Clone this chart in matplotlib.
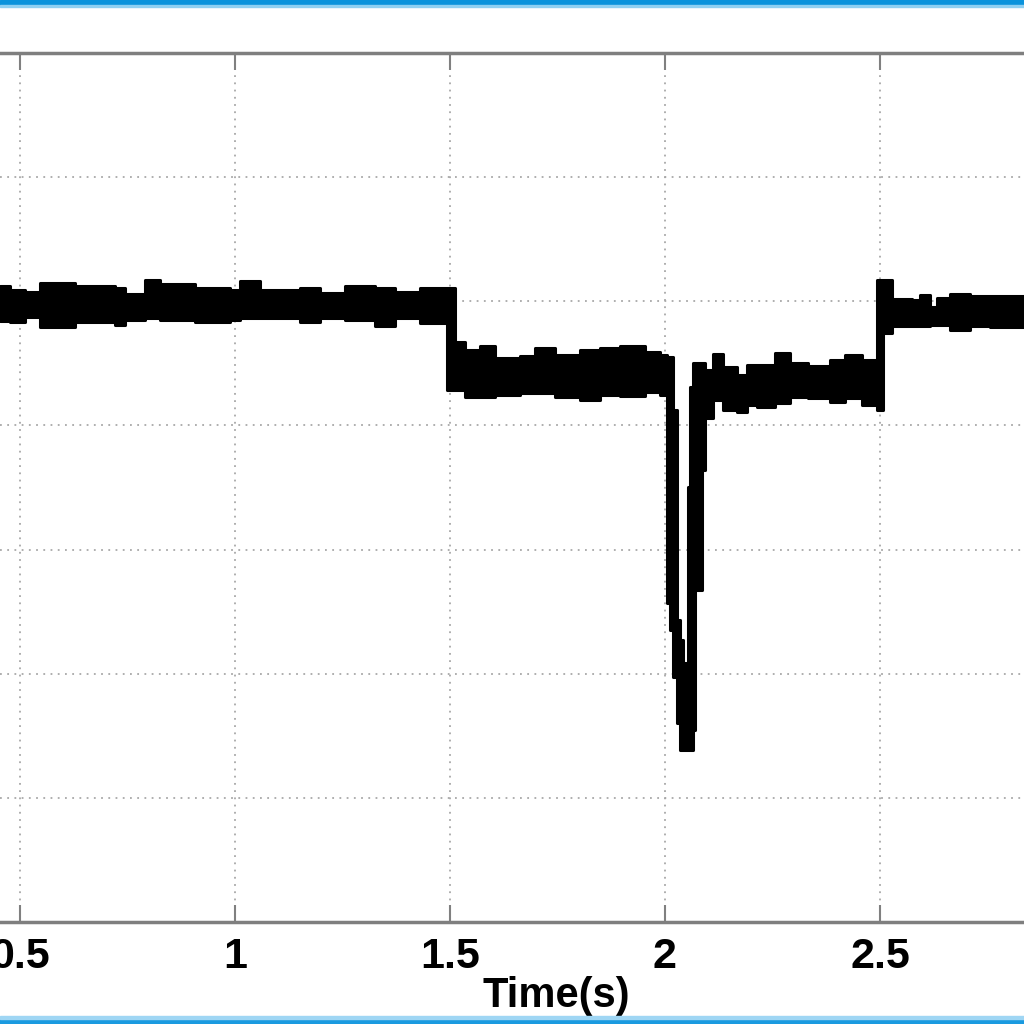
import numpy as np
import matplotlib
matplotlib.use("Agg")
from matplotlib import pyplot as plt
from matplotlib.patches import Rectangle

plt.rcParams.update({"font.family": ["Liberation Sans", "DejaVu Sans"],
                     "font.weight": "bold"})

# envelope of the noisy trace (step-wise, held until next time)
t = [0.4535, 0.4767, 0.5116, 0.5465, 0.6279, 0.7209, 0.7442, 0.7907, 0.8256,
     0.9070, 0.9884, 1.0116, 1.0581, 1.1512, 1.1977, 1.2558, 1.3256, 1.3721,
     1.4302, 1.4930, 1.5116, 1.5349, 1.5698, 1.6047, 1.6628, 1.6977, 1.7442,
     1.8023, 1.8488, 1.8953, 1.9535, 1.9884, 2.0047, 2.0116, 2.0186, 2.0279,
     2.0349, 2.0419, 2.0535, 2.0581, 2.0651, 2.0698, 2.0860, 2.0930, 2.1116,
     2.1349, 2.1674, 2.1907, 2.2140, 2.2558, 2.2907, 2.3326, 2.3837, 2.4186,
     2.4581, 2.4930, 2.5070, 2.5279, 2.5744, 2.5930, 2.6163, 2.6326, 2.6628,
     2.7093, 2.7558, 2.8349]
upper = [5.123, 5.091, 5.075, 5.147, 5.123, 5.107, 5.059, 5.172, 5.139,
         5.107, 5.091, 5.164, 5.091, 5.107, 5.067, 5.123, 5.107, 5.075,
         5.107, 5.107, 4.672, 4.608, 4.640, 4.543, 4.559, 4.624, 4.567,
         4.608, 4.624, 4.640, 4.592, 4.567, 4.551, 4.551, 4.124, 2.433,
         2.272, 2.086, 3.504, 4.310, 4.503, 4.503, 4.503, 4.447, 4.576,
         4.471, 4.406, 4.487, 4.487, 4.584, 4.503, 4.479, 4.527, 4.567,
         4.527, 5.172, 5.172, 5.019, 5.010, 5.051, 4.954, 5.027, 5.059,
         5.043, 5.043, 5.043]
lower = [4.841, 4.833, 4.874, 4.793, 4.833, 4.809, 4.849, 4.866, 4.849,
         4.833, 4.849, 4.866, 4.866, 4.833, 4.866, 4.849, 4.801, 4.866,
         4.825, 4.285, 4.285, 4.229, 4.229, 4.245, 4.261, 4.261, 4.229,
         4.205, 4.245, 4.237, 4.269, 4.245, 2.570, 2.352, 1.974, 1.603,
         1.386, 1.386, 1.386, 1.386, 1.547, 2.674, 3.641, 4.060, 4.205,
         4.124, 4.108, 4.165, 4.149, 4.181, 4.229, 4.221, 4.189, 4.221,
         4.165, 4.124, 4.745, 4.801, 4.801, 4.801, 4.809, 4.809, 4.769,
         4.801, 4.793, 4.793]

xticks = [0.5, 1, 1.5, 2, 2.5]
xticklabels = ['0.5', '1', '1.5', '2', '2.5']

fig = plt.figure(figsize=(10.24, 10.24), dpi=100)
ax = fig.add_axes([0.0, 0.0996, 1.0, 0.8486])

ax.fill_between(t, lower, upper, step='post', color='black',
                edgecolor='black', linewidth=2.2, zorder=3)

ax.set_xlim(0.4535, 2.8349)
ax.set_ylim(0, 7)
ax.set_xticks(xticks)
ax.set_xticklabels(xticklabels)
ax.set_yticks(np.arange(0, 8, 1))
ax.set_yticklabels([])
ax.grid(True, color='#a8a8a8', linestyle=(0, (1, 3)), linewidth=1.3)
ax.tick_params(axis='x', direction='in', length=12, width=1.5, color='#808080',
               top=True, labelsize=31, pad=11)
ax.tick_params(axis='y', left=False, right=False)
for s in ['left', 'right']:
    ax.spines[s].set_visible(False)
for s in ['top', 'bottom']:
    ax.spines[s].set_color('#7f7f7f')
    ax.spines[s].set_linewidth(2.5)

ax.set_xlabel('Time(s)', fontsize=30, fontweight='bold')
ax.xaxis.set_label_coords(0.543, -0.062)

# blue frame lines at top and bottom edges
fig.add_artist(Rectangle((0, 1 - 5 / 1024), 1, 5 / 1024, transform=fig.transFigure,
                         color='#0a93dc', zorder=10))
fig.add_artist(Rectangle((0, 1 - 7 / 1024), 1, 2 / 1024, transform=fig.transFigure,
                         color='#8fd0f2', zorder=10))
fig.add_artist(Rectangle((0, 0), 1, 5 / 1024, transform=fig.transFigure,
                         color='#1a9ae0', zorder=10))
fig.add_artist(Rectangle((0, 5 / 1024), 1, 3 / 1024, transform=fig.transFigure,
                         color='#9fd6f4', zorder=10))

fig.savefig('out.png', dpi=100)
